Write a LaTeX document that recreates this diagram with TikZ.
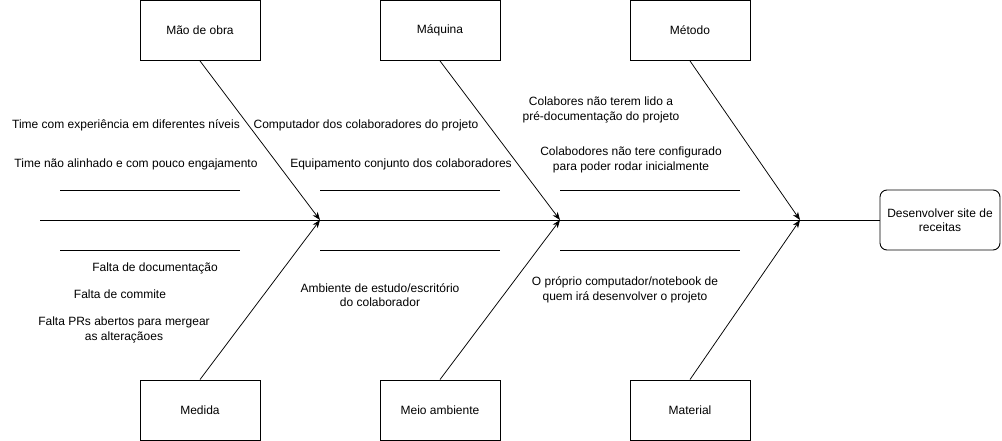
\documentclass[tikz,border=0pt]{standalone}
\usepackage{fontspec}
\setmainfont{Liberation Sans}
\usetikzlibrary{arrows.meta}
\begin{document}
\begin{tikzpicture}[x=1pt,y=-1pt,
  every node/.style={font=\fontsize{12}{14.5}\selectfont},
  catbox/.style={draw,line width=0.9pt,minimum width=120pt,minimum height=60pt,inner sep=0pt},
  goalbox/.style={draw,line width=0.9pt,rounded corners=7pt,minimum width=120pt,minimum height=60pt,inner sep=2pt,align=center},
  cause/.style={align=center,inner sep=0pt},
  bone/.style={line width=0.75pt,-{Stealth[length=8pt,width=6pt,inset=2.5pt]}},
  rib/.style={line width=0.75pt}]
\useasboundingbox (0,0) rectangle (1002,441);
% category boxes
\node[catbox] (mao) at (200,30.5) {Mão de obra};
\node[catbox] (maq) at (440,30.5) {Máquina};
\node[catbox] (met) at (690,30.5) {Método};
\node[catbox] (med) at (200,410) {Medida};
\node[catbox] (mei) at (440,410) {Meio ambiente};
\node[catbox] (mat) at (690,410) {Material};
\node[goalbox] (goal) at (940,220) {Desenvolver site de\\receitas};
% spine
\coordinate (s0) at (40,220);
\coordinate (j1) at (320,220);
\coordinate (j2) at (560,220);
\coordinate (j3) at (800,220);
\draw[rib] (s0) -- (goal.west);
% bones
\draw[bone] (mao.south) -- (j1);
\draw[bone] (med.north) -- (j1);
\draw[bone] (maq.south) -- (j2);
\draw[bone] (mei.north) -- (j2);
\draw[bone] (met.south) -- (j3);
\draw[bone] (mat.north) -- (j3);
% short ribs
\coordinate (r1a) at (60,190);  \coordinate (r1b) at (240,190);
\coordinate (r2a) at (320,190); \coordinate (r2b) at (500,190);
\coordinate (r3a) at (560,190); \coordinate (r3b) at (740,190);
\coordinate (r4a) at (60,250);  \coordinate (r4b) at (240,250);
\coordinate (r5a) at (320,250); \coordinate (r5b) at (500,250);
\coordinate (r6a) at (560,250); \coordinate (r6b) at (740,250);
\draw[rib] (r1a) -- (r1b);
\draw[rib] (r2a) -- (r2b);
\draw[rib] (r3a) -- (r3b);
\draw[rib] (r4a) -- (r4b);
\draw[rib] (r5a) -- (r5b);
\draw[rib] (r6a) -- (r6b);
% causes
\node[cause] (c1) at (126,125) {Time com experiência em diferentes níveis};
\node[cause] (c2) at (136,164) {Time não alinhado e com pouco engajamento};
\node[cause] (c3) at (366,125) {Computador dos colaboradores do projeto};
\node[cause] (c4) at (401,164) {Equipamento conjunto dos colaboradores};
\node[cause] (c5) at (601,110) {Colabores não terem lido a\\pré-documentação do projeto};
\node[cause] (c6) at (631,160) {Colabodores não tere configurado\\para poder rodar inicialmente};
\node[cause] (c7) at (155,268) {Falta de documentação};
\node[cause] (c8) at (120,294) {Falta de commite};
\node[cause] (c9) at (124,330) {Falta PRs abertos para mergear\\as alteraçãoes};
\node[cause] (c10) at (380,295) {Ambiente de estudo/escritório\\do colaborador};
\node[cause] (c11) at (625,290) {O próprio computador/notebook de\\quem irá desenvolver o projeto};
\end{tikzpicture}
\end{document}
